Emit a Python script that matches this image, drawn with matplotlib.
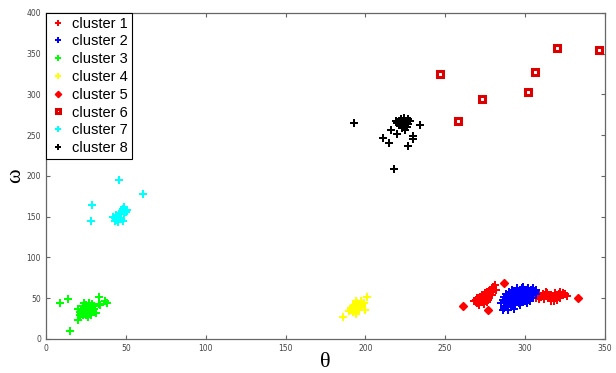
import matplotlib.pyplot as plt
import numpy as np

# cluster data (theta, omega)
c1 = [(268,46),(269,48),(270,44),(270,50),(271,47),(272,52),(272,45),(273,49),(273,54),(274,51),
      (274,47),(275,56),(275,53),(276,50),(276,58),(277,55),(277,52),(278,60),(278,57),(279,62),
      (279,54),(280,64),(281,66),(280,58),(277,48),(274,43),(271,42),(276,45),(282,60),
      (305,52),(306,56),(307,50),(308,54),(309,57),(310,52),(311,55),(312,49),(313,53),(314,56),
      (315,51),(316,47),(316,54),(317,50),(318,53),(319,56),(320,52),(321,55),(322,58),(322,50),
      (323,54),(324,57),(325,55),(326,53),(318,46),(313,58),(320,48),(309,49)]
c2 = [(286,35),(287,38),(289,36),(291,39),(293,37),(285,44),(286,48),(287,52),(288,45),(288,55),
      (289,42),(289,50),(290,47),(290,53),(290,58),(291,44),(291,56),(292,49),(292,52),(292,60),
      (293,46),(293,55),(294,42),(294,50),(294,58),(295,47),(295,53),(295,62),(296,44),(296,51),
      (296,56),(297,48),(297,59),(298,45),(298,53),(298,62),(299,50),(299,56),(300,47),(300,54),
      (300,60),(301,51),(301,58),(302,49),(302,55),(302,63),(303,52),(303,58),(304,54),(304,60),
      (305,56),(305,62),(306,58),(307,60),(297,42),(292,41),(288,40),(301,44),(303,47),(299,64),
      (305,50),(307,55)]
c3 = [(9,44),(14,49),(15,10),(20,23),(33,51),(37,46),(38,44),(33,43),(34,42),
      (20,37),(21,33),(22,36),(22,31),(23,40),(23,35),(24,38),(24,33),(25,42),(25,36),(25,29),
      (26,40),(26,34),(26,27),(27,44),(27,38),(27,32),(28,41),(28,36),(28,30),(29,39),(29,34),
      (30,37),(31,32),(21,29),(24,44),(29,43),(30,40),(23,30)]
c4 = [(186,27),(201,52),(190,34),(191,38),(192,33),(192,40),(193,36),(193,42),(194,38),(194,31),
      (195,35),(195,44),(196,40),(196,37),(197,46),(198,42),(199,44),(200,35),(197,39),(191,36),
      (194,47)]
c5 = [(261,41),(287,69),(333,50),(277,36)]
c6 = [(247,325),(258,268),(273,294),(302,303),(306,327),(320,357),(346,355)]
c7 = [(46,195),(61,178),(29,164),(28,145),(43,148),(44,146),(42,150),(45,144),(44,152),(46,149),
      (47,147),(48,145),(45,151),(47,155),(48,159),(49,162),(50,156),(51,158),(49,153),(46,153),
      (43,145)]
c8 = [(193,265),(216,256),(220,252),(211,247),(215,240),(225,256),(230,249),(230,245),(227,237),
      (234,263),(218,208),(220,265),(221,268),(222,262),(222,270),(223,266),(224,264),(224,271),
      (225,268),(225,262),(226,266),(227,270),(227,264),(228,267),(221,262),(223,259),(226,260),
      (219,268)]

clusters = [c1, c2, c3, c4, c5, c6, c7, c8]
colors = ['#ff0000', '#0000ff', '#00ff00', '#ffff00', '#ff0000', '#dd0000', '#00ffff', '#000000']
markers = ['P', 'P', 'P', 'P', 'D', 's', 'P', 'P']
labels = ['cluster %d' % (i + 1) for i in range(8)]

fig = plt.figure(figsize=(6.16, 3.73), dpi=100)
ax = fig.add_axes([0.0747, 0.0912, 0.9073, 0.874])

for pts, col, mk, lab in zip(clusters, colors, markers, labels):
    arr = np.array(pts, dtype=float)
    if mk == 's':
        ax.plot(arr[:, 0], arr[:, 1], linestyle='none', marker='s', markersize=4,
                markerfacecolor='white', markeredgecolor=col, markeredgewidth=2.2, label=lab)
    elif mk == 'D':
        ax.plot(arr[:, 0], arr[:, 1], linestyle='none', marker='D', markersize=4,
                color=col, label=lab)
    else:
        ax.plot(arr[:, 0], arr[:, 1], linestyle='none', marker='P', markersize=5.5,
                color=col, markeredgewidth=0, label=lab)

ax.set_xlim(0, 350)
ax.set_ylim(0, 400)
ax.set_xticks(np.arange(0, 351, 50))
ax.set_yticks(np.arange(0, 401, 50))
ax.tick_params(direction='in', labelsize=5.5, labelcolor='#444444', color='#666666',
               length=3, top=True, right=True, labeltop=False, labelright=False)
for s in ax.spines.values():
    s.set_color('#666666')
    s.set_linewidth(0.9)

ax.set_xlabel('θ', family='Liberation Serif', fontsize=16, labelpad=0)
ax.set_ylabel('ω', family='Liberation Serif', fontsize=16, labelpad=1)

leg = ax.legend(loc='upper left', borderaxespad=0, fancybox=False, framealpha=1,
                edgecolor='black', handlelength=1.2, handletextpad=0.35, labelspacing=0.26,
                borderpad=0.25, markerscale=0.8, prop={'family': 'Liberation Sans', 'size': 10.5})
leg.get_frame().set_linewidth(0.8)

fig.savefig('out.png', dpi=100)
